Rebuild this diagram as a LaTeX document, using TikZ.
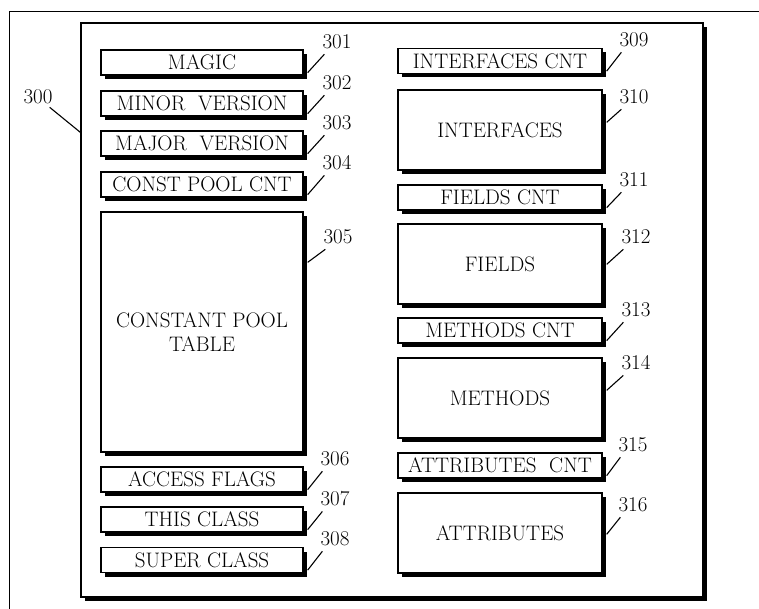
\documentclass[tikz,border=0pt]{standalone}
\usetikzlibrary{shadows}

\tikzset{
  field/.style={draw, line width=1.3pt, fill=white, inner sep=0pt,
    minimum height=25pt, align=center, font=\fontsize{21}{24}\selectfont,
    drop shadow={shadow xshift=4pt, shadow yshift=-4pt, fill=black, opacity=1}},
  lfield/.style={field, minimum width=202pt},
  rfield/.style={field, minimum width=204pt},
  refnum/.style={font=\fontsize{21}{22}\selectfont, inner sep=1pt},
  lead/.style={line width=1.1pt}
}

\begin{document}
\begin{tikzpicture}[x=1pt, y=-1pt]
    \useasboundingbox (0,0) rectangle (759,609);
    % page frame
    \draw[line width=0.9pt] (9,609) -- (9,11) -- (759,11);

    % class file
    \node[field, minimum width=622pt, minimum height=574pt] (cls) at (392,310) {};
    \node[refnum] (n300) at (38,97) {300};
    \draw[lead] ([xshift=-4pt, yshift=-2pt]n300.south east) -- ([yshift=-110pt]cls.north west);

    % left column
    \node[lfield] (magic) at (202,62.5) {MAGIC};
    \node[lfield] (minor) at (202,103.5) {MINOR\ \ VERSION};
    \node[lfield] (major) at (202,143.5) {MAJOR\ \ VERSION};
    \node[lfield] (cpcnt) at (202,184.5) {CONST POOL CNT};
    \node[lfield, minimum height=240pt] (cptab) at (202,332) {CONSTANT POOL\\TABLE};
    \node[lfield] (access) at (202,479.5) {ACCESS FLAGS};
    \node[lfield] (thiscls) at (202,519.5) {THIS CLASS};
    \node[lfield] (supercls) at (202,560) {SUPER CLASS};

    % right column
    \node[rfield] (ifcnt) at (500,61) {INTERFACES CNT};
    \node[rfield, minimum height=80pt] (ifaces) at (500,130) {INTERFACES};
    \node[rfield] (fcnt) at (500,197.5) {FIELDS CNT};
    \node[rfield, minimum height=80pt] (fields) at (500,264) {FIELDS};
    \node[rfield] (mcnt) at (500,330.5) {METHODS CNT};
    \node[rfield, minimum height=80pt] (methods) at (500,398) {METHODS};
    \node[rfield] (acnt) at (500,465.5) {ATTRIBUTES\ \ CNT};
    \node[rfield, minimum height=80pt] (attrs) at (500,533) {ATTRIBUTES};

    % reference numbers
    \node[refnum] (n301) at (337,42) {301};
    \node[refnum] (n302) at (337,83) {302};
    \node[refnum] (n303) at (337,123) {303};
    \node[refnum] (n304) at (337,163) {304};
    \node[refnum] (n305) at (338,237) {305};
    \node[refnum] (n306) at (335,459) {306};
    \node[refnum] (n307) at (335,499) {307};
    \node[refnum] (n308) at (335,539) {308};
    \node[refnum] (n309) at (634,40) {309};
    \node[refnum] (n310) at (634,97) {310};
    \node[refnum] (n311) at (634,180) {311};
    \node[refnum] (n312) at (636,237) {312};
    \node[refnum] (n313) at (636,310) {313};
    \node[refnum] (n314) at (636,363) {314};
    \node[refnum] (n315) at (633,445) {315};
    \node[refnum] (n316) at (633,505) {316};

    % leaders, small boxes
    \foreach \b/\n in {magic/301, minor/302, major/303, cpcnt/304,
                       access/306, thiscls/307, supercls/308,
                       ifcnt/309, fcnt/311, mcnt/313, acnt/315}
      \draw[lead] ([xshift=4pt, yshift=3pt]\b.south east) -- ([xshift=3pt, yshift=-4pt]n\n.south west);
    % leaders, large boxes
    \foreach \b/\n/\d in {cptab/305/51, ifaces/310/33, fields/312/41, methods/314/33, attrs/316/42}
      \draw[lead] ([xshift=4pt, yshift=-\d pt]\b.north east) -- ([xshift=3pt, yshift=-4pt]n\n.south west);
\end{tikzpicture}
\end{document}
